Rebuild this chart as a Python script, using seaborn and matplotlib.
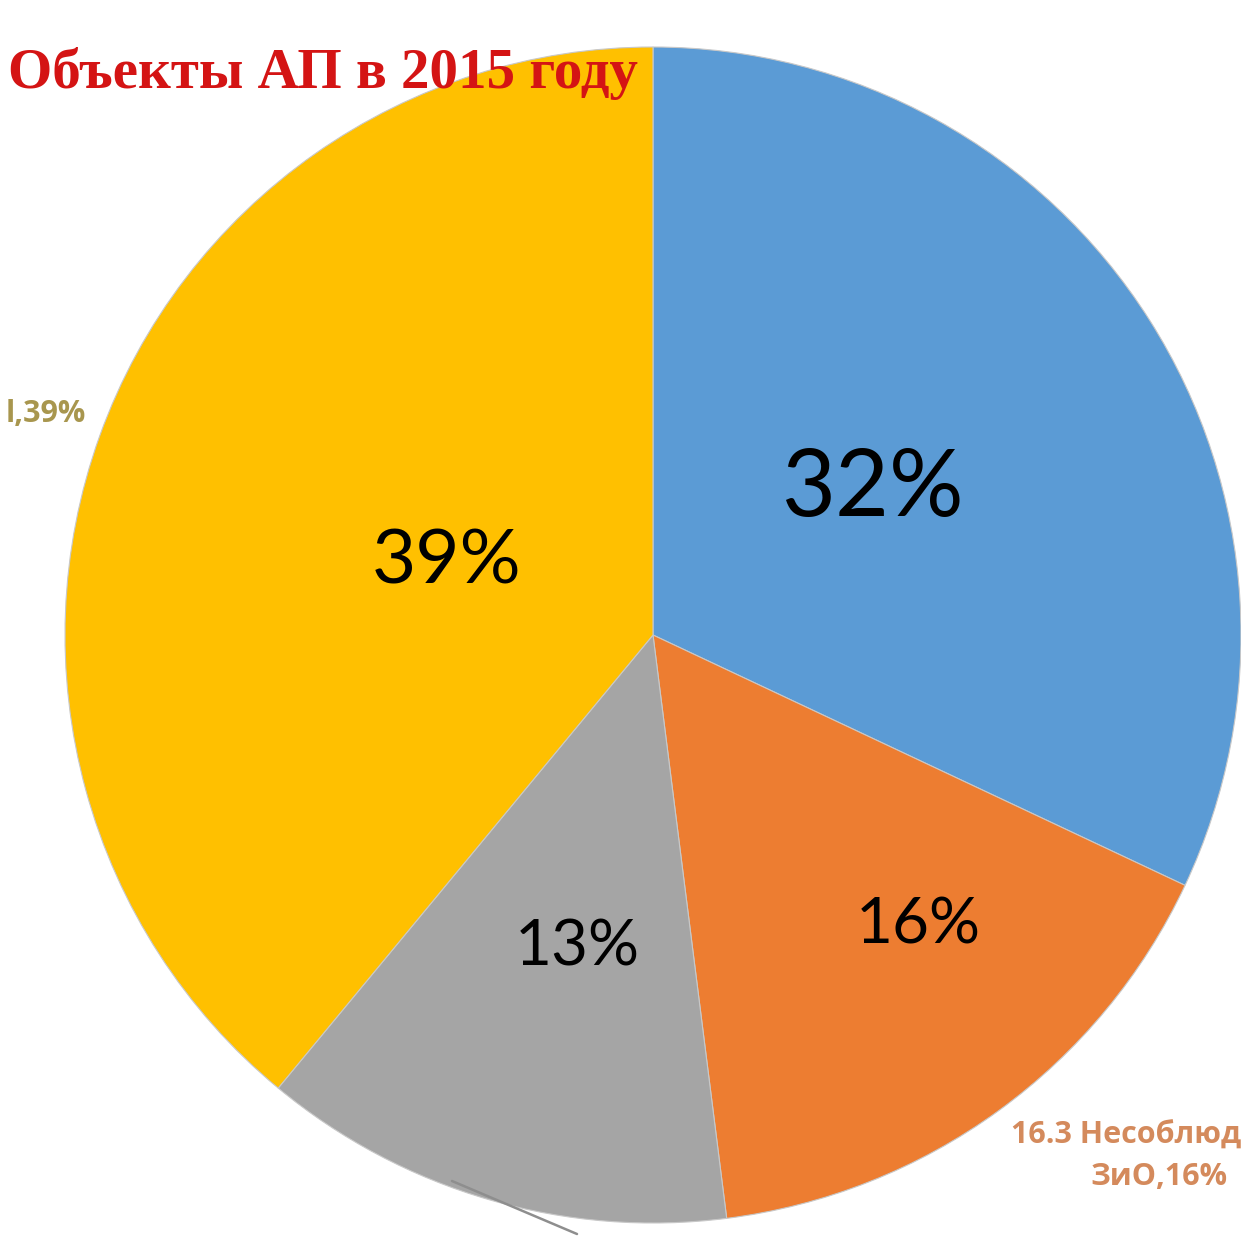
import matplotlib.pyplot as plt
import seaborn as sns

# data (clockwise from 12 o'clock)
categories = ["A", "16.3 Несоблюд ЗиО", "C", "l"]
shares = [32, 16, 13, 39]
pct_labels = ["32%", "16%", "13%", "39%"]
colors = ["#5B9BD5", "#ED7D31", "#A5A5A5", "#FFC000"]

title = "Объекты АП в 2015 году"

sns.set_style("white")
plt.rcParams["font.family"] = ["Lato", "DejaVu Sans"]

W, H = 1241, 1239
fig = plt.figure(figsize=(W / 100, H / 100), dpi=100)
cx, cy, r = 653, 635, 588
ax = fig.add_axes([(cx - r) / W, (H - cy - r) / H, 2 * r / W, 2 * r / H])

wedges, _ = ax.pie(shares, colors=sns.color_palette(colors), startangle=90,
                   counterclock=False, radius=1,
                   wedgeprops=dict(edgecolor="#C8C8C8", linewidth=0.8))
ax.set_xlim(-1, 1)
ax.set_ylim(-1, 1)
ax.set_aspect("equal")
ax.axis("off")


def px(x, y):
    return (x - cx) / r, (cy - y) / r


# percentage labels inside the slices
pos = [(872, 490, 67), (918, 925, 46), (577, 948, 46), (447, 562, 55)]
for lab, (x, y, fs) in zip(pct_labels, pos):
    ax.text(*px(x, y), lab, ha="center", va="center", fontsize=fs, color="black")

# outside labels
out_font = dict(fontweight="bold", fontsize=22, family="Open Sans", clip_on=False)
ax.text(*px(86, 414), "l,39%", ha="right", va="center", color="#A8964E", **out_font)
ax.text(*px(1241, 1136), "16.3 Несоблюд", ha="right", va="center",
        color="#D48A5C", **out_font)
ax.text(*px(1228, 1177), "ЗиО,16%", ha="right", va="center",
        color="#D48A5C", **out_font)

# leader line for the grey slice
x0, y0 = px(452, 1181)
x1, y1 = px(577, 1234)
ax.plot([x0, x1], [y0, y1], color="#8E8E8E", linewidth=1.8, clip_on=False)

fig.text(8 / W, 1 - 88 / H, title, ha="left", va="baseline", fontsize=41,
         fontweight="bold", color="#D41414", family="Liberation Serif")

fig.savefig("out.png", dpi=100)
